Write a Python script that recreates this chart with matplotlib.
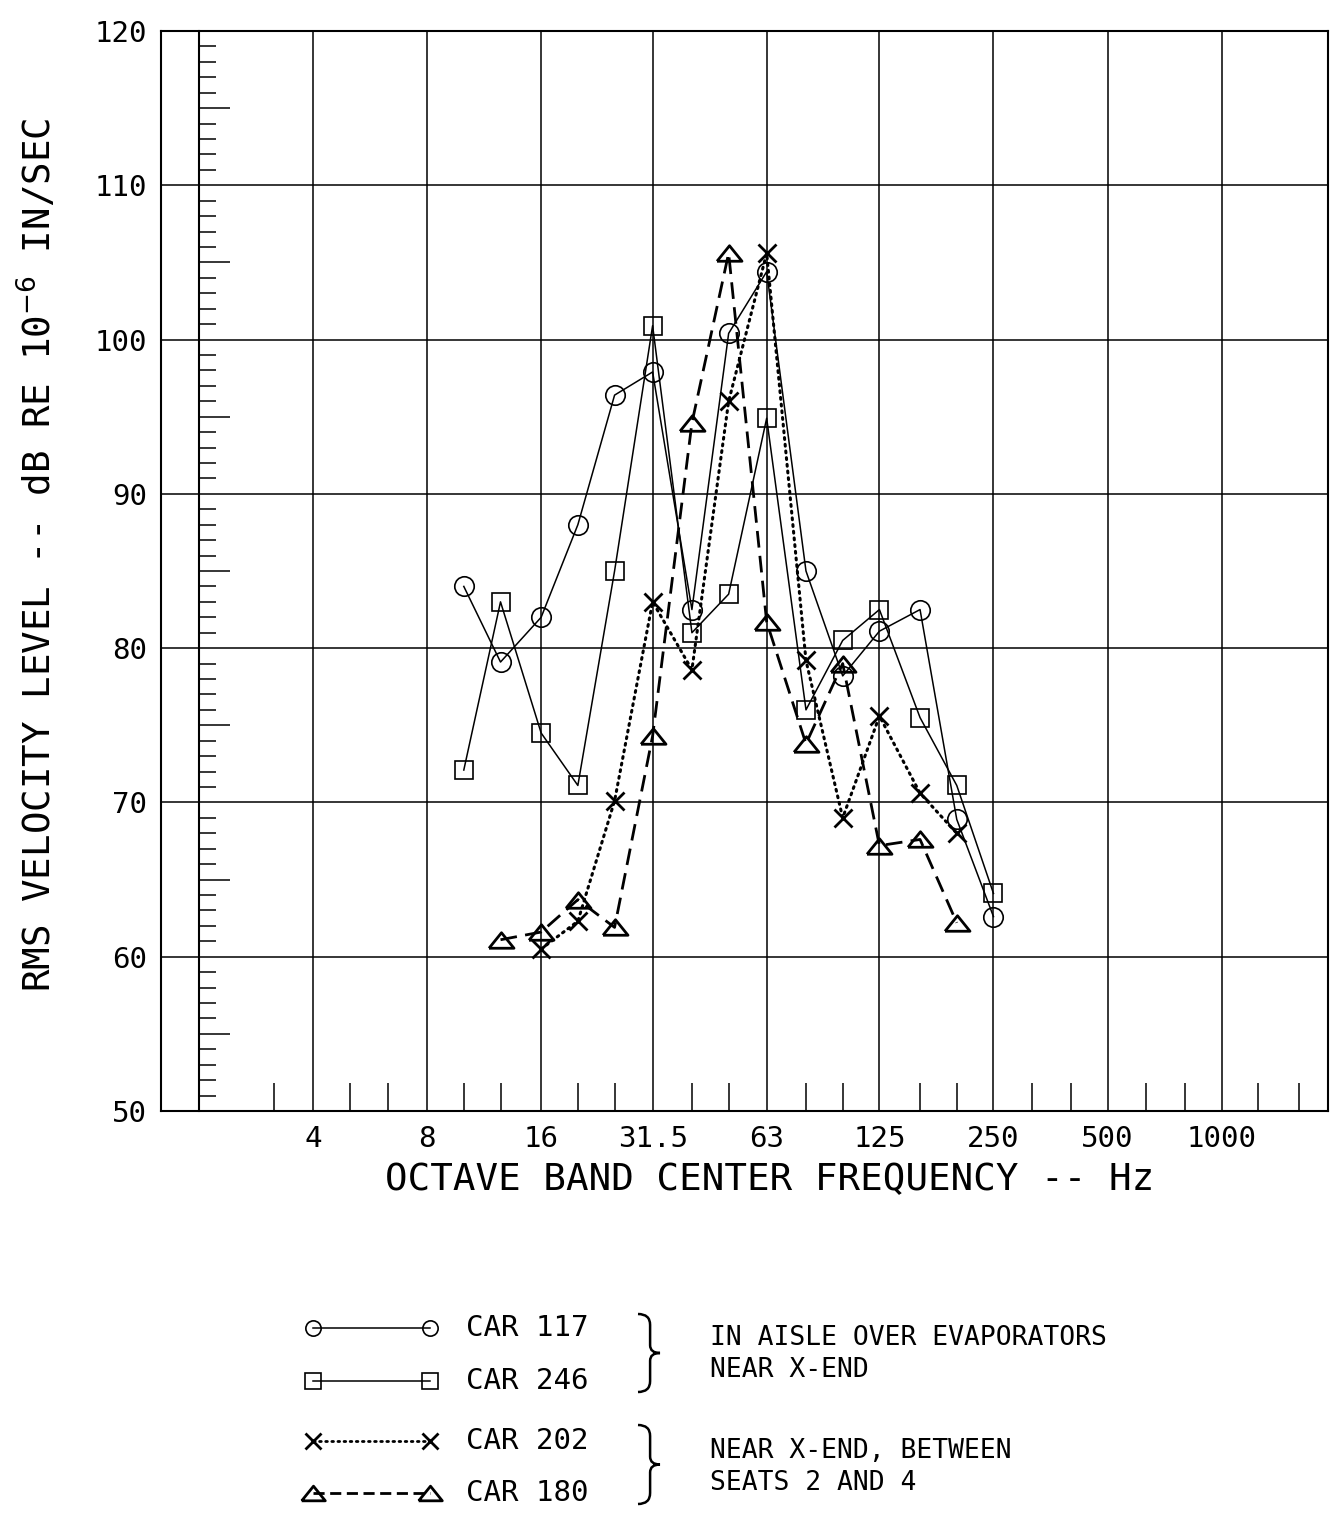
import numpy as np
import matplotlib.pyplot as plt
from matplotlib.path import Path
from matplotlib.patches import PathPatch

plt.rcParams['font.family'] = ['DejaVu Sans Mono', 'DejaVu Sans']

# one-third octave band centres (Hz)
freqs = [10, 12.5, 16, 20, 25, 31.5, 40, 50, 63, 80, 100, 125, 160, 200, 250]
car117 = [84.0, 79.1, 82.0, 88.0, 96.4, 97.9, 82.5, 100.4, 104.4, 85.0, 78.2, 81.1, 82.5, 68.9, 62.6]
car246 = [72.1, 83.0, 74.5, 71.1, 85.0, 100.9, 81.0, 83.5, 94.9, 76.0, 80.5, 82.5, 75.5, 71.1, 64.1]
freqs202 = [16, 20, 25, 31.5, 40, 50, 63, 80, 100, 125, 160, 200]
car202 = [60.5, 62.3, 70.1, 83.0, 78.6, 96.0, 105.6, 79.2, 69.0, 75.6, 70.6, 68.0]
freqs180 = [12.5, 16, 20, 25, 31.5, 40, 50, 63, 80, 100, 125, 160, 200]
car180 = [61.1, 61.6, 63.7, 61.9, 74.3, 94.6, 105.6, 81.7, 73.8, 79.0, 67.2, 67.6, 62.2]

octave_ticks = [4, 8, 16, 31.5, 63, 125, 250, 500, 1000]
octave_labels = ['4', '8', '16', '31.5', '63', '125', '250', '500', '1000']
third_ticks = [3.15, 5, 6.3, 10, 12.5, 20, 25, 40, 50, 80, 100, 160, 200,
               315, 400, 630, 800, 1250, 1600]
db_ticks = [50, 60, 70, 80, 90, 100, 110, 120]

tri = [(-1, -0.62), (1, -0.62), (0, 0.62), (-1, -0.62)]

fig = plt.figure(figsize=(13.31, 15.15), dpi=100)
W, H = 1331, 1515
ax = fig.add_axes([161 / W, 1 - 1111 / H, (1328 - 161) / W, (1111 - 31) / H])

ax.set_xscale('log', base=2)
ax.set_xlim(1.588, 1909)
ax.set_ylim(50, 120)

ax.set_xticks(octave_ticks, octave_labels)
ax.set_xticks(third_ticks, minor=True)
ax.xaxis.set_minor_formatter(plt.NullFormatter())
ax.set_yticks(db_ticks)
ax.tick_params(axis='both', which='major', length=0, labelsize=21, pad=10)
ax.tick_params(axis='x', which='major', labelsize=21)
ax.tick_params(axis='x', which='minor', direction='in', length=20, width=1.1,
               color='black')
ax.grid(True, which='major', color='black', lw=1.1)
for s in ax.spines.values():
    s.set_linewidth(1.5)

# inner scale line at 2 Hz carrying the 1 dB ticks
sec = ax.secondary_yaxis((199 - 161) / (1328 - 161))
sec.set_yticks([v for v in range(55, 120, 10)])
sec.set_yticks([v for v in range(51, 120) if v % 5], minor=True)
sec.yaxis.set_minor_formatter(plt.NullFormatter())
sec.tick_params(which='both', direction='in', labelleft=False, width=1.1, color='black')
sec.tick_params(which='major', length=22)
sec.tick_params(which='minor', length=12)
sec.spines['left'].set_linewidth(1.5)

ax.plot(freqs, car117, color='black', lw=1.1, marker='o', ms=14, mfc='none', mew=1.2, zorder=3)
ax.plot(freqs, car246, color='black', lw=1.1, marker='s', ms=13, mfc='none', mew=1.2, zorder=3)
ax.plot(freqs202, car202, color='black', lw=2.2, ls=(0, (0.6, 1.6)), dash_capstyle='round',
        marker='x', ms=13, mew=2.0, zorder=3)
ax.plot(freqs180, car180, color='black', lw=2.0, ls=(0, (6, 3)),
        marker=tri, ms=18, mfc='none', mew=2.0, zorder=3)

fig.text(770 / W, 1 - 1180 / H, 'OCTAVE BAND CENTER FREQUENCY -- Hz',
         ha='center', va='center', fontsize=27)
fig.text(38 / W, 1 - 555 / H, r'RMS VELOCITY LEVEL -- dB RE 10$^{-6}$ IN/SEC',
         ha='center', va='center', rotation=90, fontsize=27)

# key below the plot, laid out in pixel units
lax = fig.add_axes([0, 0, 1, 1])
lax.set_xlim(0, W)
lax.set_ylim(H, 0)
lax.axis('off')

keys = [
    ('CAR 117', 1328, dict(lw=1.1, marker='o', ms=11, mfc='none', mew=1.2)),
    ('CAR 246', 1381, dict(lw=1.1, marker='s', ms=11, mfc='none', mew=1.2)),
    ('CAR 202', 1441, dict(lw=2.0, ls=(0, (0.6, 1.6)), dash_capstyle='round',
                           marker='x', ms=12, mew=2.0)),
    ('CAR 180', 1493, dict(lw=2.0, ls=(0, (4, 2)), marker=tri, ms=17, mfc='none', mew=2.0)),
]
for label, y, style in keys:
    lax.plot([313, 430], [y, y], color='black', **style)
    lax.text(466, y, label, ha='left', va='center', fontsize=21)


def brace(x0, yt, yb, w):
    ym = (yt + yb) / 2
    h = yb - yt
    xm = x0 + w * 0.55
    verts = [(x0, yt), (xm, yt), (xm, yt + h * 0.14),
             (xm, ym - h * 0.1),
             (xm, ym), (x0 + w, ym),
             (xm, ym), (xm, ym + h * 0.1),
             (xm, yb - h * 0.14),
             (xm, yb), (x0, yb)]
    codes = [Path.MOVETO, Path.CURVE3, Path.CURVE3,
             Path.LINETO,
             Path.CURVE3, Path.CURVE3,
             Path.CURVE3, Path.CURVE3,
             Path.LINETO,
             Path.CURVE3, Path.CURVE3]
    lax.add_patch(PathPatch(Path(verts, codes), fill=False, lw=1.8, color='black'))


brace(638, 1314, 1392, 22)
brace(638, 1425, 1504, 22)

lax.text(710, 1338, 'IN AISLE OVER EVAPORATORS', ha='left', va='center', fontsize=19)
lax.text(710, 1370, 'NEAR X-END', ha='left', va='center', fontsize=19)
lax.text(710, 1451, 'NEAR X-END, BETWEEN', ha='left', va='center', fontsize=19)
lax.text(710, 1483, 'SEATS 2 AND 4', ha='left', va='center', fontsize=19)

fig.savefig('out.png', dpi=100, facecolor='white')
